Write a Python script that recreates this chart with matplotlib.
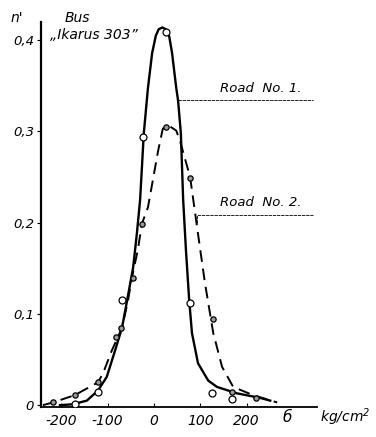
import matplotlib.pyplot as plt

# Road No. 1 - drawn curve (solid) and measured points (hollow circles)
road1_curve_x = [-203, -175, -145, -121, -102, -84, -69, -58, -45, -37, -30, -22, -13, -4, 4, 10,
                 18, 26, 33, 39, 48, 52, 58, 63, 69, 76, 82, 95, 117, 136, 179, 229, 251]
road1_curve_y = [0.0, 0.001, 0.005, 0.016, 0.031, 0.060, 0.085, 0.115, 0.151, 0.188, 0.225, 0.298,
                 0.348, 0.386, 0.405, 0.412, 0.414, 0.412, 0.404, 0.386, 0.348, 0.334, 0.298,
                 0.225, 0.170, 0.115, 0.079, 0.046, 0.027, 0.020, 0.013, 0.008, 0.005]
road1_pts_x = [-171, -121, -69, -24, 26, 78, 125, 169]
road1_pts_y = [0.001, 0.014, 0.115, 0.294, 0.409, 0.112, 0.013, 0.007]

# Road No. 2 - drawn curve (dashed) and measured points (small grey circles)
road2_curve_x = [-240, -218, -171, -121, -110, -91, -69, -56, -48, -35, -26, -13, 9, 19, 30, 48,
                 56, 78, 95, 110, 128, 147, 171, 214, 266]
road2_curve_y = [0.0, 0.003, 0.011, 0.025, 0.035, 0.060, 0.085, 0.115, 0.139, 0.170, 0.199, 0.217,
                 0.279, 0.303, 0.307, 0.301, 0.290, 0.250, 0.188, 0.134, 0.079, 0.042, 0.020,
                 0.011, 0.003]
road2_pts_x = [-218, -171, -121, -82, -71, -45, -26, 26, 78, 128, 169, 221]
road2_pts_y = [0.003, 0.011, 0.025, 0.075, 0.085, 0.139, 0.199, 0.305, 0.249, 0.094, 0.014, 0.008]

x_ticks = [-200, -100, 0, 100, 200]
x_labels = ['-200', '-100', '0', '100', '200']
y_ticks = [0, 0.1, 0.2, 0.3, 0.4]
y_labels = ['0', '0,1', '0,2', '0,3', '0,4']

plt.rcParams['font.family'] = 'DejaVu Sans'
plt.rcParams['font.style'] = 'italic'

W, H = 376, 437
fig = plt.figure(figsize=(W / 100, H / 100), dpi=100)
ax = fig.add_axes([41 / W, 1 - 407 / H, (317 - 41) / W, (407 - 22) / H])

ax.plot(road1_curve_x, road1_curve_y, color='black', lw=1.7, solid_joinstyle='round', zorder=2)
ax.plot(road2_curve_x, road2_curve_y, color='black', lw=1.4, dashes=(6, 3.5), zorder=2)
ax.plot(road1_pts_x, road1_pts_y, 'o', ms=5, mfc='white', mec='black', mew=0.9, zorder=3)
ax.plot(road2_pts_x, road2_pts_y, 'o', ms=3.8, mfc='#999999', mec='black', mew=0.9, zorder=3)

# leader lines to the curve names
ax.plot([52, 344], [0.334, 0.334], color='black', lw=0.6, ls=(0, (4, 1)))
ax.plot([93, 93, 344], [0.200, 0.209, 0.209], color='black', lw=0.6, ls=(0, (4, 1)))
ax.text(143, 0.347, 'Road  No. 1.', fontsize=9.5, va='center')
ax.text(143, 0.222, 'Road  No. 2.', fontsize=9.5, va='center')

ax.set_xlim(-244, 352)
ax.set_ylim(-0.002, 0.42)
ax.set_xticks(x_ticks)
ax.set_xticklabels(x_labels, fontsize=10)
ax.set_yticks(y_ticks)
ax.set_yticklabels(y_labels, fontsize=9.5)
ax.tick_params(axis='x', direction='in', length=3, width=0.8, pad=5)
ax.tick_params(axis='y', direction='out', length=3, width=0.8, pad=2)
for s in ['top', 'right']:
    ax.spines[s].set_visible(False)
ax.spines['left'].set_linewidth(1.6)
ax.spines['bottom'].set_linewidth(1.3)

fig.text(17 / W, 1 - 18 / H, "n'", fontsize=10, ha='center', va='center')
fig.text(77 / W, 1 - 18 / H, 'Bus', fontsize=10, ha='center', va='center')
fig.text(94 / W, 1 - 35 / H, '\u201eIkarus 303\u201d', fontsize=10, ha='center', va='center')
fig.text(287 / W, 1 - 417 / H, 'б', fontsize=11, ha='center', va='center')
fig.text(345 / W, 1 - 417 / H, 'kg/cm$^2$', fontsize=10, ha='center', va='center')

plt.savefig('out.png', dpi=100)
